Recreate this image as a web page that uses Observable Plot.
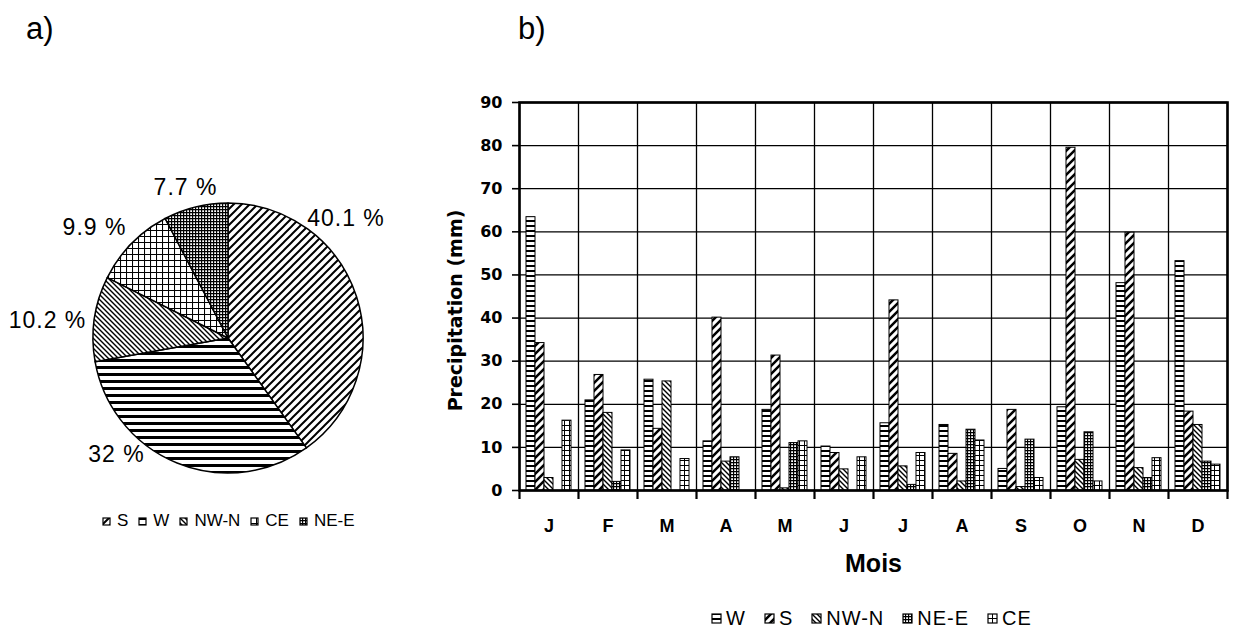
<!DOCTYPE html>
<html>
<head>
<meta charset="utf-8">
<script src="https://cdn.jsdelivr.net/npm/d3@7"></script>
<script src="https://cdn.jsdelivr.net/npm/@observablehq/plot@0.6"></script>
<style>
  body { margin: 0; background: #fff; font-family: "Liberation Sans", Arial, sans-serif; color: #000; }
  #root { position: relative; width: 1237px; height: 628px; overflow: hidden; background: #fff; }
  .abs { position: absolute; white-space: nowrap; line-height: 1; }
  .panel { font-size: 31px; }
  .pielab { font-size: 23px; letter-spacing: 1px; transform: translate(-50%, -50%); }
  .legend { position: absolute; display: flex; align-items: center; white-space: nowrap; }
  .legend .item { display: flex; align-items: center; }
  .legend svg { display: block; }
</style>
</head>
<body>
<svg width="0" height="0" style="position:absolute">
  <defs>
    <!-- pie patterns -->
    <pattern id="pie-S" patternUnits="userSpaceOnUse" width="8" height="8">
      <rect width="8" height="8" fill="white"/>
      <path d="M-2,2 L2,-2 M0,8 L8,0 M6,10 L10,6" stroke="black" stroke-width="2"/>
    </pattern>
    <pattern id="pie-W" patternUnits="userSpaceOnUse" width="7" height="7">
      <rect width="7" height="7" fill="white"/>
      <rect width="7" height="3" fill="black"/>
    </pattern>
    <pattern id="pie-NWN" patternUnits="userSpaceOnUse" width="5" height="5">
      <rect width="5" height="5" fill="white"/>
      <path d="M-1,-1 L6,6 M-1,4 L1,6 M4,-1 L6,1" stroke="black" stroke-width="1.4"/>
    </pattern>
    <pattern id="pie-CE" patternUnits="userSpaceOnUse" width="6" height="6">
      <rect width="6" height="6" fill="white"/>
      <path d="M0,0.5 H6 M0.5,0 V6" stroke="black" stroke-width="1.1"/>
    </pattern>
    <pattern id="pie-NEE" patternUnits="userSpaceOnUse" width="3" height="3">
      <rect width="3" height="3" fill="white"/>
      <path d="M0,0.5 H3 M0.5,0 V3" stroke="black" stroke-width="1.4"/>
    </pattern>
    <!-- bar patterns -->
    <pattern id="bar-W" patternUnits="userSpaceOnUse" width="5" height="5">
      <rect width="5" height="5" fill="white"/>
      <rect width="5" height="2" fill="black"/>
    </pattern>
    <pattern id="bar-S" patternUnits="userSpaceOnUse" width="8" height="8">
      <rect width="8" height="8" fill="white"/>
      <path d="M-2,2 L2,-2 M0,8 L8,0 M6,10 L10,6" stroke="black" stroke-width="2.5"/>
    </pattern>
    <pattern id="bar-NWN" patternUnits="userSpaceOnUse" width="5" height="5">
      <rect width="5" height="5" fill="white"/>
      <path d="M-1,-1 L6,6 M-1,4 L1,6 M4,-1 L6,1" stroke="black" stroke-width="1.4"/>
    </pattern>
    <pattern id="bar-NEE" patternUnits="userSpaceOnUse" width="3" height="3">
      <rect width="3" height="3" fill="white"/>
      <path d="M0,0.5 H3 M0.5,0 V3" stroke="black" stroke-width="1.3"/>
    </pattern>
    <pattern id="bar-CE" patternUnits="userSpaceOnUse" width="5" height="5">
      <rect width="5" height="5" fill="white"/>
      <path d="M0,0.5 H5 M0.5,0 V5" stroke="black" stroke-width="1"/>
    </pattern>
  </defs>
</svg>
<div id="root"></div>
<script>
// ---------------- DATA ----------------
// a) share of annual precipitation by weather type (%)
const pieKeys   = ["S", "W", "NW-N", "CE", "NE-E"];
const pieShares = [40.1, 32, 10.2, 9.9, 7.7];

// b) monthly precipitation (mm) by weather type
const months = ["J", "F", "M", "A", "M", "J", "J", "A", "S", "O", "N", "D"];
const barKeys = ["W", "S", "NW-N", "NE-E", "CE"];
const precipW   = [63.4, 20.9, 25.7, 11.4, 18.7, 10.2, 15.6, 15.2, 5.0, 19.3, 48.1, 53.2];
const precipS   = [34.2, 26.8, 14.3, 40.1, 31.3, 8.7, 44.1, 8.5, 18.7, 79.5, 59.8, 18.3];
const precipNWN = [2.9, 18.0, 25.3, 6.7, 0.5, 4.9, 5.6, 2.1, 0.8, 7.1, 5.2, 15.2];
const precipNEE = [0, 2.0, 0, 7.7, 11.0, 0, 1.3, 14.1, 11.8, 13.5, 2.9, 6.7];
const precipCE  = [16.2, 9.3, 7.3, 0, 11.4, 7.7, 8.7, 11.6, 2.9, 2.1, 7.5, 6.0];
const yTicks = [0, 10, 20, 30, 40, 50, 60, 70, 80, 90];
const yLabel = "Precipitation (mm)";
const xLabel = "Mois";

// ---------------- STYLE / LAYOUT ----------------
const patId = {"S": "S", "W": "W", "NW-N": "NWN", "CE": "CE", "NE-E": "NEE"};
const pieUrl = k => `url(#pie-${patId[k]})`;
const barUrl = k => `url(#bar-${patId[k]})`;
const seriesByKey = {"W": precipW, "S": precipS, "NW-N": precipNWN, "NE-E": precipNEE, "CE": precipCE};
const pieLabelPos = [[346, 217.5], [116.5, 453.5], [47.5, 320], [94.5, 226.5], [185.5, 186.5]];

const root = document.getElementById("root");
function addDiv(cls, text, style) {
  const d = document.createElement("div");
  d.className = cls;
  d.textContent = text;
  Object.assign(d.style, style);
  root.appendChild(d);
  return d;
}

addDiv("abs panel", "a)", {left: "26px", top: "13px"});
addDiv("abs panel", "b)", {left: "518px", top: "13px"});

// ---------------- PIE (a) ----------------
const pieData = pieKeys.map((k, i) => ({key: k, share: pieShares[i]}));
const pieMark = (index, scales, values, dimensions) => {
  const {width, height} = dimensions;
  const r = Math.min(width, height) / 2 - 15;
  const arcs = d3.pie().sort(null).value(d => d.share)(pieData);
  const arc = d3.arc().innerRadius(0).outerRadius(r);
  const g = d3.create("svg:g").attr("transform", `translate(${width / 2},${height / 2})`);
  g.selectAll("path").data(arcs).join("path")
    .attr("d", arc)
    .attr("fill", d => pieUrl(d.data.key))
    .attr("stroke", "black")
    .attr("stroke-width", 1.5)
    .attr("stroke-linejoin", "round");
  return g.node();
};
const pie = Plot.plot({
  width: 300, height: 300, margin: 0,
  style: {background: "transparent", overflow: "visible"},
  marks: [pieMark]
});
pie.style.position = "absolute";
pie.style.left = "77.5px";
pie.style.top = "188px";
root.appendChild(pie);

pieShares.forEach((v, i) => {
  addDiv("abs pielab", `${v} %`, {left: pieLabelPos[i][0] + "px", top: pieLabelPos[i][1] + "px"});
});

function legend(keys, urlFn, opts) {
  const L = document.createElement("div");
  L.className = "legend";
  Object.assign(L.style, opts.style);
  keys.forEach((k, i) => {
    const it = document.createElement("div");
    it.className = "item";
    if (i < keys.length - 1) it.style.marginRight = opts.gap + "px";
    const s = opts.sw;
    it.innerHTML = `<svg width="${s + 2}" height="${s + 2}"><rect x="1" y="1" width="${s}" height="${s}" fill="${urlFn(k)}" stroke="black" stroke-width="1.2"/></svg><span style="margin-left:${opts.tg}px">${k}</span>`;
    L.appendChild(it);
  });
  root.appendChild(L);
}
legend(pieKeys, pieUrl, {sw: 7, gap: 10, tg: 6,
  style: {left: "102px", top: "511px", fontSize: "17px", lineHeight: "20px"}});

// ---------------- BARS (b) ----------------
const rows = [];
months.forEach((m, mi) => barKeys.forEach((k, si) => rows.push({mi, month: m, key: k, si, value: seriesByKey[k][mi]})));
const bw = 9 / 59;                          // bar width as a fraction of a month slot
const pad = (1 - barKeys.length * bw) / 2;  // space left on each side of a group
const boundaries = months.map((_, i) => i).concat([months.length]);
const centers = months.map((_, i) => i + 0.5);

const bars = Plot.plot({
  width: 798, height: 485,
  marginLeft: 80, marginRight: 10, marginTop: 12, marginBottom: 85,
  style: {background: "transparent", overflow: "visible", fontFamily: "Liberation Sans, Arial, sans-serif", color: "black"},
  x: {domain: [0, months.length]},
  y: {domain: [0, 90]},
  marks: [
    Plot.gridY({ticks: yTicks, stroke: "black", strokeOpacity: 1, strokeWidth: 1.3}),
    Plot.gridX({ticks: boundaries, stroke: "black", strokeOpacity: 1, strokeWidth: 1.3}),
    ...barKeys.map(k => Plot.rectY(rows.filter(r => r.key === k), {
      x1: d => d.mi + pad + d.si * bw,
      x2: d => d.mi + pad + (d.si + 1) * bw,
      y: "value",
      fill: barUrl(k), stroke: "black", strokeWidth: 1
    })),
    Plot.frame({stroke: "black", strokeWidth: 2.6}),
    Plot.axisY({ticks: yTicks, tickSize: 7, tickPadding: 10, fontSize: 16, fontWeight: "bold",
      fontFamily: "DejaVu Sans, sans-serif", strokeWidth: 1.6, label: null}),
    Plot.axisX({ticks: boundaries, tickSize: 9, tickFormat: () => "", strokeWidth: 2.2, label: null}),
    Plot.axisX({ticks: centers, tickSize: 0, tickPadding: 29, tickFormat: d => months[Math.floor(d)],
      fontSize: 18, fontWeight: "bold", label: null}),
    Plot.text([xLabel], {text: d => d, frameAnchor: "bottom", lineAnchor: "middle", textAnchor: "middle",
      dy: 73, fontSize: 25, fontWeight: "bold"}),
    Plot.text([yLabel], {text: d => d, frameAnchor: "left", lineAnchor: "middle", textAnchor: "middle",
      rotate: -90, dx: -64, dy: 14, fontSize: 19, fontWeight: "bold", fontFamily: "DejaVu Sans, sans-serif"})
  ]
});
bars.style.position = "absolute";
bars.style.left = "439px";
bars.style.top = "90px";
root.appendChild(bars);

legend(barKeys, barUrl, {sw: 9, gap: 18, tg: 4,
  style: {left: "711px", top: "607px", fontSize: "20px", lineHeight: "22px", letterSpacing: "1px"}});
</script>
</body>
</html>
